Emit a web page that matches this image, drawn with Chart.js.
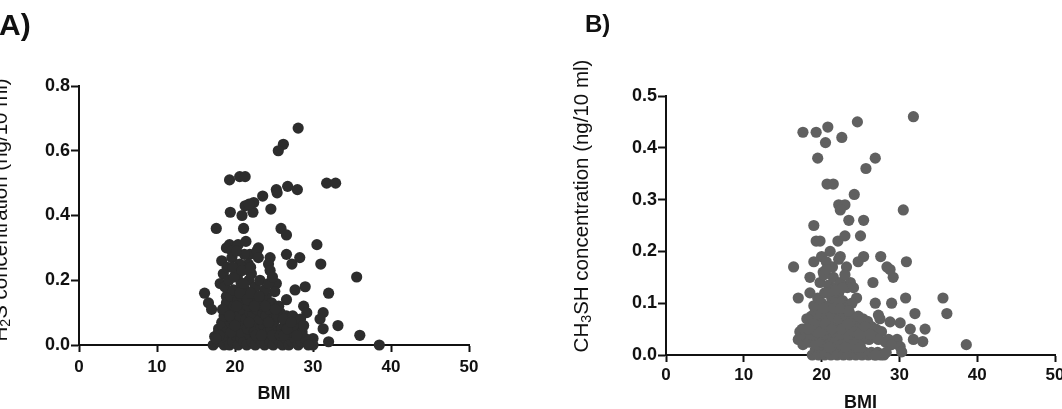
<!DOCTYPE html>
<html>
<head>
<meta charset="utf-8">
<script src="https://cdn.jsdelivr.net/npm/chart.js@4.4.0/dist/chart.umd.min.js"></script>
<style>
html,body{margin:0;padding:0;background:#fff;}
body{width:1062px;height:409px;overflow:hidden;position:relative;font-family:Arial,"Liberation Sans",sans-serif;color:#111;}
#ca{position:absolute;left:0;top:0;}
#cb{position:absolute;left:531px;top:0;}
.panel{position:absolute;font-weight:bold;line-height:1;white-space:nowrap;color:#111;}
.yt{position:absolute;white-space:nowrap;font-size:20.5px;line-height:1;color:#111;transform:translate(-50%,-50%) rotate(-90deg);}
.yt sub{font-size:70%;line-height:0;vertical-align:-0.25em;}
</style>
</head>
<body>
<canvas id="ca" width="531" height="420"></canvas>
<canvas id="cb" width="560" height="420"></canvas>
<div class="panel" style="left:-1px;top:9.6px;font-size:30px;">A)</div>
<div class="panel" style="left:585px;top:11.7px;font-size:24px;">B)</div>
<div class="yt" style="left:-0.4px;top:210px;">H<sub>2</sub>S concentration (ng/10 ml)</div>
<div class="yt" style="left:581px;top:206px;">CH<sub>3</sub>SH concentration (ng/10 ml)</div>
<script>
// ---- data ----
const xTickValues = [0, 10, 20, 30, 40, 50];
const yTickValuesA = [0, 0.2, 0.4, 0.6, 0.8];
const yTickValuesB = [0, 0.1, 0.2, 0.3, 0.4, 0.5];
const xTitle = 'BMI';

// Panel A: BMI vs H2S concentration
const bmiA = [
 28.1,26.2,25.55,19.3,20.6,21.3,31.75,32.9,25.3,25.4,26.75,28.0,23.55,22.4,21.3,22.3,20.9,19.4,21.8,24.6,
 17.6,21.1,25.9,26.6,30.5,19.3,20.4,21.4,23.0,26.6,28.3,27.3,31.0,24.5,24.3,24.5,35.6,16.1,16.6,17.0,
 29.0,27.7,32.0,26.6,25.3,25.1,28.8,29.2,31.3,30.9,31.3,33.2,36.0,38.5,32.0,30.0,30.0,26.8,27.5,28.3,
 27.5,25.8,26.6,18.9,19.6,21.9,22.8,21.7,18.3,18.5,18.1,17.2,17.4,17.9,18.3,18.7,18.9,
 17.8,18.2,18.6,19.0,19.3,19.7,20.1,20.4,20.8,21.1,21.5,21.9,22.2,22.6,23.0,23.4,23.8,24.1,24.5,24.9,
 25.3,25.7,26.1,26.5,26.9,27.3,27.7,28.1,28.5,29.0,29.4,
 17.9,18.4,18.9,19.4,19.8,20.3,20.7,21.2,21.6,22.0,22.5,22.9,23.3,23.7,24.2,24.6,25.0,25.5,26.0,26.4,27.0,27.8,28.6,
 18.6,19.1,19.6,20.0,20.5,21.0,21.4,21.9,22.3,22.8,23.2,23.6,24.0,24.4,24.9,25.4,26.2,27.4,28.4,
 18.9,19.5,19.9,20.4,20.9,21.4,21.7,22.3,23.0,23.5,24.0,24.7,25.6,
 18.7,19.2,19.8,20.3,20.8,21.3,21.8,22.1,22.6,23.2,23.8,24.3,24.8,20.1,
 19.0,19.6,20.6,21.2,20.2,23.0,19.9,
 18.4,19.3,20.2,20.6,21.1,21.6,22.0,22.5,22.7,23.1,23.4,23.9,24.3,24.8,25.2,25.8,26.3,26.7,27.2,27.9,
 28.8,19.5,20.0,21.8,19.7,20.9,22.0,18.0,17.6
];
const h2sA = [
 0.67,0.62,0.60,0.51,0.52,0.52,0.50,0.50,0.48,0.47,0.49,0.48,0.46,0.44,0.43,0.41,0.40,0.41,0.435,0.42,
 0.36,0.36,0.36,0.34,0.31,0.31,0.31,0.32,0.30,0.28,0.27,0.25,0.25,0.27,0.25,0.23,0.21,0.16,0.13,0.11,
 0.18,0.17,0.16,0.14,0.19,0.165,0.12,0.10,0.10,0.08,0.05,0.06,0.03,0.00,0.01,0.02,0.00,0.08,0.06,0.05,
 0.03,0.10,0.09,0.30,0.29,0.28,0.29,0.25,0.26,0.22,0.19,0.00,0.026,0.04,0.07,0.10,0.15,
 0.01,0.03,0.00,0.02,0.00,0.01,0.03,0.00,0.02,0.01,0.00,0.03,0.01,0.00,0.02,0.01,0.00,0.03,0.01,0.00,
 0.02,0.01,0.00,0.02,0.00,0.01,0.02,0.00,0.01,0.02,0.00,
 0.05,0.06,0.04,0.07,0.05,0.06,0.04,0.07,0.05,0.06,0.04,0.07,0.05,0.06,0.04,0.05,0.07,0.04,0.05,0.06,0.04,0.05,0.04,
 0.09,0.11,0.08,0.10,0.09,0.11,0.08,0.10,0.09,0.11,0.08,0.10,0.09,0.11,0.08,0.09,0.08,0.09,0.08,
 0.13,0.15,0.12,0.14,0.13,0.15,0.12,0.14,0.13,0.12,0.15,0.13,0.12,
 0.18,0.20,0.17,0.21,0.19,0.17,0.20,0.22,0.18,0.20,0.17,0.19,0.21,0.22,
 0.24,0.27,0.25,0.28,0.29,0.27,0.21,
 0.11,0.09,0.12,0.16,0.19,0.14,0.16,0.12,0.03,0.15,0.03,0.12,0.07,0.03,0.11,0.03,0.03,0.05,0.07,0.03,
 0.06,0.04,0.06,0.07,0.24,0.23,0.24,0.03,0.02
];

// Panel B: BMI vs CH3SH concentration
const bmiB = [
 31.8,24.6,17.6,19.3,20.8,20.5,22.6,19.5,26.9,25.7,20.7,21.5,24.2,30.5,22.2,23.0,22.4,23.5,25.4,19.0,
 19.3,19.8,22.1,23.0,25.0,21.1,22.4,20.0,25.4,27.6,30.9,16.4,17.0,18.5,18.5,18.1,17.2,17.0,20.2,22.2,
 23.2,24.7,28.4,29.2,28.8,26.6,23.7,24.1,24.5,26.9,29.0,30.8,35.6,36.1,32.0,27.5,28.8,30.1,27.3,31.4,
 33.3,31.8,33.0,29.7,30.1,30.3,38.6,25.3,21.4,20.6,19.0,
 18.8,19.2,19.6,20.0,20.4,20.8,21.2,21.6,22.0,22.4,22.8,23.2,23.6,24.0,24.4,24.8,25.2,25.6,26.0,26.4,26.8,27.2,27.6,28.0,
 17.3,17.6,18.0,18.4,18.8,19.3,19.7,20.1,20.5,20.9,21.3,21.7,22.1,22.5,22.9,23.3,23.7,24.1,24.5,24.9,25.3,25.7,26.1,28.2,28.6,29.0,
 17.5,17.8,18.5,18.9,19.4,19.8,20.3,20.7,21.1,21.5,22.0,22.4,22.8,23.2,23.6,24.0,24.5,24.9,25.4,25.9,26.4,27.0,27.7,26.7,27.3,
 18.7,19.2,19.6,20.1,20.6,21.0,21.4,21.9,22.3,22.7,23.1,23.6,24.1,24.7,25.3,25.9,
 19.0,19.5,20.0,20.4,20.9,21.3,21.8,22.2,22.7,23.3,23.9,22.9,
 19.8,20.3,20.9,21.5,21.8,22.4,23.0,23.3,20.6,
 19.0,19.9,20.5,21.3,22.6,23.4,24.2,24.8,25.6,26.2,21.0,23.0,25.0,20.2,21.6,22.4,23.5,20.8,21.8,22.7,
 18.3,28.3,27.0
];
const ch3shB = [
 0.46,0.45,0.43,0.43,0.44,0.41,0.42,0.38,0.38,0.36,0.33,0.33,0.31,0.28,0.29,0.29,0.28,0.26,0.26,0.25,
 0.22,0.22,0.22,0.23,0.23,0.20,0.19,0.19,0.19,0.19,0.18,0.17,0.11,0.15,0.12,0.07,0.045,0.03,0.16,0.185,
 0.17,0.18,0.17,0.15,0.165,0.14,0.14,0.13,0.11,0.10,0.10,0.11,0.11,0.08,0.08,0.07,0.064,0.062,0.077,0.05,
 0.05,0.03,0.026,0.03,0.016,0.006,0.02,0.05,0.17,0.18,0.18,
 0.00,0.01,0.00,0.01,0.00,0.005,0.00,0.01,0.00,0.005,0.00,0.01,0.00,0.005,0.00,0.01,0.00,0.005,0.00,0.005,0.00,0.005,0.00,0.00,
 0.03,0.02,0.035,0.025,0.03,0.02,0.035,0.025,0.03,0.02,0.035,0.025,0.03,0.02,0.035,0.025,0.03,0.02,0.035,0.025,0.03,0.035,0.03,0.025,0.03,0.02,
 0.05,0.05,0.04,0.055,0.045,0.06,0.04,0.05,0.06,0.045,0.055,0.04,0.06,0.05,0.04,0.055,0.045,0.06,0.05,0.045,0.055,0.05,0.045,0.035,0.03,
 0.075,0.085,0.07,0.08,0.07,0.085,0.075,0.08,0.07,0.085,0.075,0.08,0.07,0.075,0.07,0.065,
 0.095,0.11,0.10,0.12,0.095,0.11,0.10,0.12,0.105,0.095,0.10,0.09,
 0.14,0.155,0.135,0.15,0.13,0.14,0.155,0.13,0.165,
 0.06,0.045,0.06,0.05,0.05,0.06,0.045,0.04,0.055,0.04,0.015,0.015,0.015,0.09,0.09,0.09,0.085,0.12,0.125,0.13,
 0.05,0.005,0.00
];

// ---- drawing ----
const FONT = 'Arial, "Liberation Sans", sans-serif';
const INK = '#111';

function makeChart(id, xs, ys, color, yTicks, area, dims, xTickPad, titlePad) {
  const ctx = document.getElementById(id).getContext('2d');
  return new Chart(ctx, {
    type: 'scatter',
    data: {
      datasets: [{
        data: xs.map((x, i) => ({ x: x, y: ys[i] })),
        pointRadius: 5.6,
        pointBackgroundColor: color,
        pointBorderColor: color,
        pointBorderWidth: 0,
        clip: false
      }]
    },
    options: {
      responsive: false,
      animation: false,
      devicePixelRatio: 1,
      events: [],
      layout: { padding: { left: 0, top: area.top, right: dims.w - area.right, bottom: 0 } },
      plugins: { legend: { display: false }, tooltip: { enabled: false } },
      scales: {
        x: {
          type: 'linear', position: 'bottom',
          min: xTickValues[0], max: xTickValues[xTickValues.length - 1],
          afterBuildTicks: s => { s.ticks = xTickValues.map(v => ({ value: v })); },
          afterFit: s => { s.height = dims.h - area.bottom; },
          grid: { display: true, drawOnChartArea: false, drawTicks: true, tickLength: 7, tickColor: INK, tickWidth: 2 },
          border: { display: true, color: INK, width: 2 },
          ticks: { autoSkip: false, maxRotation: 0, color: INK, padding: xTickPad,
                   font: { family: FONT, size: 17, weight: 'bold' },
                   callback: v => String(v) },
          title: { display: true, text: xTitle, color: INK,
                   font: { family: FONT, size: 18, weight: 'bold' },
                   padding: { top: 0, bottom: titlePad } }
        },
        y: {
          type: 'linear', position: 'left',
          min: yTicks[0], max: yTicks[yTicks.length - 1],
          afterBuildTicks: s => { s.ticks = yTicks.map(v => ({ value: v })); },
          afterFit: s => { s.width = area.left; },
          grid: { display: true, drawOnChartArea: false, drawTicks: true, tickLength: 8, tickColor: INK, tickWidth: 2 },
          border: { display: true, color: INK, width: 2 },
          ticks: { color: INK, padding: 1,
                   font: { family: FONT, size: 18, weight: 'bold' },
                   callback: v => Number(v).toFixed(1) }
        }
      }
    }
  });
}

makeChart('ca', bmiA, h2sA, '#2d2d2d', yTickValuesA,
  { left: 79, right: 469, top: 86, bottom: 345 }, { w: 531, h: 420 }, 5, 14.7);
makeChart('cb', bmiB, ch3shB, '#606060', yTickValuesB,
  { left: 135, right: 524, top: 96, bottom: 355 }, { w: 560, h: 420 }, 3.5, 6);
</script>
</body>
</html>
